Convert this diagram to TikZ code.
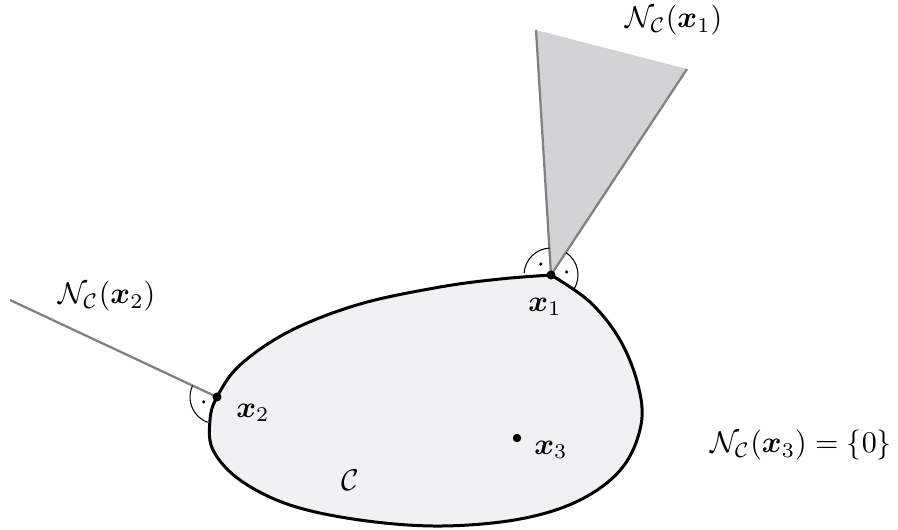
\documentclass[tikz,border=0pt]{standalone}
\usepackage{amsmath}
\usepackage{bm}
\definecolor{setfill}{HTML}{F0F1F3}
\definecolor{conefill}{HTML}{D3D3D5}
\definecolor{edgegray}{HTML}{808080}
\tikzset{
  boundary/.style={line width=1pt, black, line join=round},
  normalline/.style={line width=0.75pt, edgegray},
  rightangle/.style={line width=0.35pt, black},
  lbl/.style={inner sep=0pt, font=\fontsize{10.3}{12}\selectfont},
}
\begin{document}
\begin{tikzpicture}[x=0.3333pt, y=0.3333pt]
\useasboundingbox (0,0) rectangle (898,-529);
% key points
\coordinate (x1) at (551,-275);
\coordinate (x2) at (217,-397);
\coordinate (x3) at (517,-438);
\coordinate (c1) at (536,-30);
\coordinate (c2) at (687,-69);
\coordinate (n2) at (10,-300);
% set C
\def\setpath{plot[smooth, tension=0.6] coordinates {(551,-275) (590,-302) (620,-340) (638,-385) (641,-425) (622,-468) (580,-500) (520,-519) (440,-526) (360,-520) (290,-505) (240,-480) (213,-450) (210,-420) (217,-397) (240,-365) (290,-331) (360,-304) (440,-287) (500,-279) (551,-275)}}
\fill[setfill] \setpath;
% normal cone at x1
\fill[conefill] (x1) -- (c1) -- (c2) -- cycle;
\draw[normalline] (c1) -- (x1) -- (c2);
% normal line at x2
\draw[normalline] (x2) -- (n2);
% boundary
\draw[boundary] \setpath;
% right angle marks
\draw[rightangle] ([shift={(176:9pt)}]x1) arc[start angle=176, end angle=93, radius=9pt];
\draw[rightangle] ([shift={(56:9pt)}]x1) arc[start angle=56, end angle=-33, radius=9pt];
\fill ([shift={(133:5pt)}]x1) circle (0.6pt);
\fill ([shift={(11:5.3pt)}]x1) circle (0.6pt);
\draw[rightangle] ([shift={(155:9pt)}]x2) arc[start angle=155, end angle=250, radius=9pt];
\fill ([shift={(200:4.7pt)}]x2) circle (0.6pt);
% points
\fill (x1) circle (1.5pt);
\fill (x2) circle (1.5pt);
\fill (x3) circle (1.4pt);
% labels
\node[lbl] (lN1) at (674,-20) {$\mathcal{N}_{\mathcal{C}}(\bm{x}_1)$};
\node[lbl] (lN2) at (107,-296) {$\mathcal{N}_{\mathcal{C}}(\bm{x}_2)$};
\node[lbl] (lx1) at (545,-307) {$\bm{x}_1$};
\node[lbl] (lx2) at (253,-413) {$\bm{x}_2$};
\node[lbl] (lx3) at (551,-450) {$\bm{x}_3$};
\node[lbl] (lC) at (350,-480) {$\mathcal{C}$};
\node[lbl] (lN3) at (801,-445) {$\mathcal{N}_{\mathcal{C}}(\bm{x}_3) = \{0\}$};
\end{tikzpicture}
\end{document}
